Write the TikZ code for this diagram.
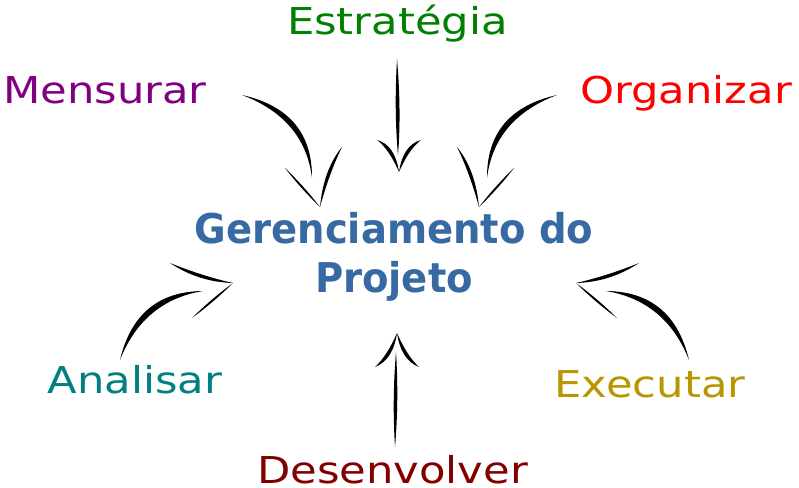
\documentclass[tikz,border=0pt]{standalone}
\usepackage{fontspec}
\setmainfont{DejaVu Sans}
\usepackage{graphicx}
\usetikzlibrary{positioning,calc}

\definecolor{estGreen}{RGB}{0,128,0}
\definecolor{mensPurple}{RGB}{128,0,128}
\definecolor{orgRed}{RGB}{255,0,0}
\definecolor{anaTeal}{RGB}{0,128,128}
\definecolor{exeGold}{RGB}{184,150,0}
\definecolor{desMaroon}{RGB}{128,0,0}
\definecolor{gpBlue}{RGB}{55,105,162}

% tapered brush stroke: start, bend point (one side), end, bend point (other side)
\newcommand{\brush}[4]{\fill[black] #1 .. controls ($#1!.667!#2$) and ($#3!.667!#2$) .. #3
	.. controls ($#3!.667!#4$) and ($#1!.667!#4$) .. #1;}
\newcommand{\widetxt}[1]{\scalebox{1.17}[1]{#1}}
\newcommand{\slimtxt}[1]{\scalebox{0.94}[1]{#1}}

\begin{document}
\begin{tikzpicture}[x=1pt,y=-1pt,
	lbl/.style={anchor=base,inner sep=0pt,font=\fontsize{37}{40}\selectfont},
	gptext/.style={anchor=base,inner sep=0pt,font=\bfseries\fontsize{41}{44}\selectfont,text=gpBlue}]
		\useasboundingbox (0,0) rectangle (799,487);
		\node[gptext] (gp) at (394,243) {\slimtxt{Gerenciamento do}};
		\node[gptext] (gp2) at (394,292) {\slimtxt{Projeto}};
		\node[lbl,text=estGreen] (est) at (397.5,35) {\widetxt{Estratégia}};
		\node[lbl,text=mensPurple] (mens) at (105,103) {\widetxt{Mensurar}};
		\node[lbl,text=orgRed] (org) at (686,103) {\widetxt{Organizar}};
		\node[lbl,text=anaTeal] (ana) at (135,393) {\widetxt{Analisar}};
		\node[lbl,text=exeGold] (exe) at (650,397) {\widetxt{Executar}};
		\node[lbl,text=desMaroon] (des) at (392.5,483) {\widetxt{Desenvolver}};
		% Estrategia
		\brush{(397,59)}{(394,111.5)}{(398,155)}{(401.5,111.5)}
		\brush{(377,140)}{(395,145)}{(399,172)}{(389,149)}
		\brush{(421,140)}{(403,145)}{(399,172)}{(409,149)}
		% Desenvolver
		\brush{(395,447)}{(392,400)}{(396,352)}{(399,400)}
		\brush{(375,367)}{(393,360)}{(397,333)}{(387,356)}
		\brush{(419,367)}{(401,360)}{(397,333)}{(407,356)}
		% Mensurar
		\brush{(242,95)}{(312.4,110.85)}{(312,178)}{(304.6,118.65)}
		\brush{(285,168)}{(304,186.2)}{(320,207)}{(301,188.8)}
		\brush{(342,147)}{(323.5,169.5)}{(320,207)}{(329.5,172.5)}
		% Organizar
		\brush{(557,95)}{(486.6,110.85)}{(487,178)}{(494.4,118.65)}
		\brush{(514,168)}{(495,186.2)}{(479,207)}{(498,188.8)}
		\brush{(457,147)}{(475.5,169.5)}{(479,207)}{(469.5,172.5)}
		% Analisar
		\brush{(120,360)}{(136.25,291.55)}{(203,291)}{(143.25,300.95)}
		\brush{(170,263)}{(198.5,282)}{(233,283)}{(202.25,276)}
		\brush{(192,318)}{(213.8,302)}{(233,283)}{(211.2,299)}
		% Executar
		\brush{(689,360)}{(672.75,291.55)}{(606,291)}{(665.75,300.95)}
		\brush{(639,263)}{(610.5,282)}{(576,283)}{(606.75,276)}
		\brush{(617,318)}{(595.2,302)}{(576,283)}{(597.8,299)}
		\end{tikzpicture}
\end{document}
